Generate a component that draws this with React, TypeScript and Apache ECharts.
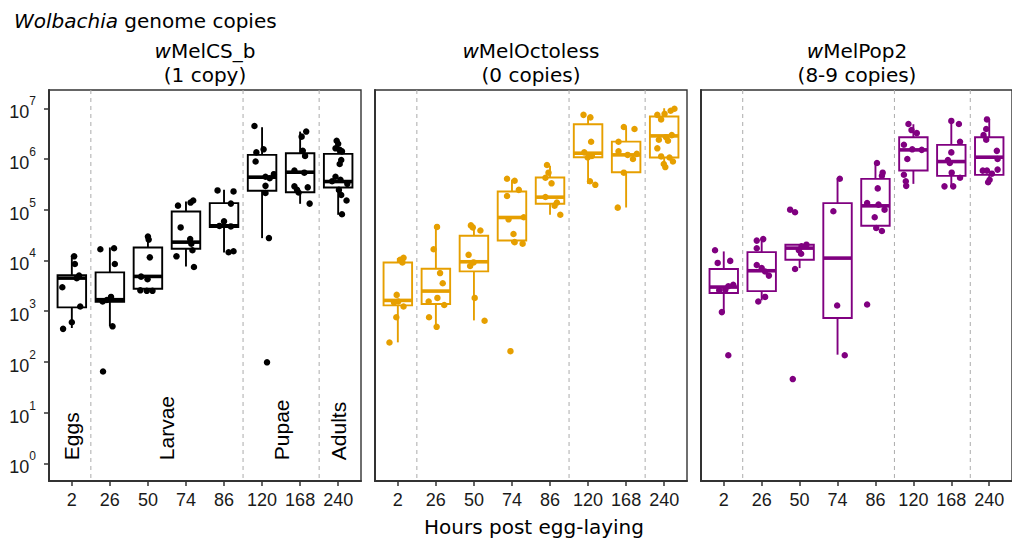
import React, { useEffect, useRef } from "react";
import * as echarts from "echarts";

// Categories (hours post egg-laying)
const hours = ["2", "26", "50", "74", "86", "120", "168", "240"];
const yTickExponents = [0, 1, 2, 3, 4, 5, 6, 7];
const stageBreaks = [1.5, 5.5, 7.5];
const stageNames = ["Eggs", "Larvae", "Pupae", "Adults"];
const stagePositions = [1, 3.5, 6.5, 8];

const strainNames = ["wMelCS_b", "wMelOctoless", "wMelPop2"];
const copyLabels = ["(1 copy)", "(0 copies)", "(8-9 copies)"];
const strainColors = ["#000000", "#E69F00", "#800080"];

// Box statistics, log10 copies: [lower whisker, Q1, median, Q3, upper whisker]
const boxCS = [
  [2.667, 3.074, 3.651, 3.71, 4.098],
  [2.7, 3.185, 3.225, 3.763, 4.255],
  [3.42, 3.441, 3.684, 4.255, 4.472],
  [3.881, 4.229, 4.36, 4.965, 5.162],
  [4.157, 4.656, 4.682, 5.129, 5.391],
  [4.439, 5.372, 5.641, 6.081, 6.626],
  [5.116, 5.345, 5.739, 6.114, 6.54],
  [4.899, 5.437, 5.555, 6.1, 6.376],
];
const boxOcto = [
  [2.384, 3.113, 3.211, 3.96, 4.045],
  [2.686, 3.139, 3.395, 3.835, 4.662],
  [2.817, 3.783, 3.973, 4.485, 4.669],
  [4.34, 4.393, 4.846, 5.358, 5.588],
  [4.899, 5.116, 5.247, 5.634, 5.864],
  [5.509, 6.035, 6.114, 6.685, 6.836],
  [5.043, 5.739, 6.081, 6.343, 6.619],
  [5.818, 6.028, 6.455, 6.836, 7.0],
];
const boxPop = [
  [2.975, 3.356, 3.474, 3.829, 4.177],
  [3.211, 3.395, 3.796, 4.163, 4.426],
  [3.848, 4.012, 4.242, 4.308, 4.308],
  [2.141, 2.863, 4.045, 5.129, 5.621],
  [4.59, 4.682, 5.076, 5.608, 5.917],
  [5.509, 5.772, 6.179, 6.429, 6.685],
  [5.457, 5.667, 5.949, 6.278, 6.75],
  [5.555, 5.687, 6.035, 6.429, 6.783],
];

// Individual samples per category: [jitter offset, log10 copies]
const ptsCS = [
  [[0.06, 4.08], [0.08, 3.93], [0.19, 3.7], [-0.25, 3.47], [0.13, 3.65], [0.22, 3.09], [0, 2.78], [-0.23, 2.65]],
  [[-0.25, 4.22], [0.11, 4.24], [0.13, 3.93], [-0.19, 3.19], [0.03, 3.28], [-0.08, 3.22], [0.07, 2.7], [-0.18, 1.81]],
  [[0, 4.47], [0.02, 4.41], [0.05, 4.06], [-0.18, 3.68], [-0.01, 3.63], [-0.2, 3.41], [-0.03, 3.4], [0.12, 3.4]],
  [[-0.21, 5.08], [0.12, 5.14], [0.19, 5.18], [-0.14, 4.65], [0.11, 4.42], [0.14, 4.33], [0.17, 4.2], [-0.25, 4.08], [0.21, 3.87]],
  [[-0.17, 5.38], [0.25, 5.36], [0.18, 5.12], [0, 4.77], [0.18, 4.67], [-0.12, 4.68], [0.12, 4.16], [0.25, 4.18]],
  [[-0.2, 6.65], [0.04, 6.19], [-0.15, 6.13], [-0.17, 5.95], [0.31, 5.7], [0.09, 5.65], [0.2, 5.62], [0.09, 5.47], [0.09, 5.33], [0.18, 4.44], [0.13, 1.99]],
  [[0.16, 6.54], [0.04, 6.44], [0.07, 6.16], [0.13, 6.06], [-0.15, 5.77], [0.11, 5.73], [-0.15, 5.46], [0.2, 5.44], [-0.08, 5.39], [-0.04, 5.34], [0.25, 5.12]],
  [[-0.04, 6.36], [0, 6.3], [-0.07, 6.21], [0.04, 6.18], [0.1, 6.15], [0.08, 5.98], [0.04, 5.9], [-0.07, 5.65], [0.06, 5.59], [-0.16, 5.56], [0.24, 5.51], [0.02, 5.39], [0.08, 5.29], [0.22, 5.18], [0.1, 4.91]],
];
const ptsOcto = [
  [[0.06, 4.01], [0.15, 4.05], [0.12, 3.96], [-0.03, 3.32], [0.01, 3.19], [0.15, 3.09], [-0.1, 3.17], [-0.04, 2.88], [-0.22, 2.38]],
  [[0.03, 4.66], [-0.06, 4.22], [0.11, 3.75], [0.18, 3.55], [0.04, 3.26], [-0.19, 3.19], [0.22, 3.12], [-0.18, 2.88], [0.02, 2.69]],
  [[-0.08, 4.69], [-0.03, 4.65], [0.17, 4.59], [-0.14, 4.11], [-0.01, 3.96], [-0.1, 3.89], [0.02, 3.26], [0.28, 2.81]],
  [[-0.13, 5.61], [0.07, 5.57], [0.18, 5.39], [-0.13, 5.27], [-0.09, 4.81], [0.31, 4.85], [0.04, 4.52], [0.07, 4.36], [0.28, 4.33], [-0.04, 2.21]],
  [[-0.08, 5.88], [-0.04, 5.73], [-0.12, 5.63], [0.04, 5.52], [-0.12, 5.25], [0.18, 5.14], [0.12, 5.08], [0.27, 4.9]],
  [[-0.12, 6.87], [0.06, 6.82], [0.08, 6.34], [-0.1, 6.13], [0.1, 6.06], [-0.01, 6.03], [0.05, 5.56], [0.19, 5.49]],
  [[-0.06, 6.63], [0.22, 6.59], [-0.2, 6.34], [-0.2, 6.15], [0.04, 6.08], [0.28, 6.1], [0.18, 6.0], [-0.06, 5.73], [-0.22, 5.04]],
  [[0.27, 6.99], [0.17, 6.95], [0.01, 6.89], [-0.18, 6.87], [-0.08, 6.78], [0.2, 6.47], [0.05, 6.43], [-0.14, 6.38], [0.1, 6.36], [-0.18, 6.21], [-0.08, 6.05], [0.14, 6.03], [0.23, 5.95], [-0.01, 5.9], [0.03, 5.84]],
];
const ptsPop = [
  [[-0.23, 4.2], [0.17, 3.99], [-0.16, 3.95], [0.25, 3.52], [0.12, 3.49], [-0.12, 3.41], [0.04, 3.42], [-0.05, 2.98], [0.12, 2.13]],
  [[0.04, 4.42], [-0.13, 4.39], [-0.13, 4.24], [-0.13, 3.91], [0, 3.85], [0.09, 3.78], [0.19, 3.7], [0.09, 3.28], [-0.09, 3.19]],
  [[-0.25, 5.0], [-0.12, 4.95], [0.18, 4.31], [0.05, 4.28], [-0.02, 4.2], [0.04, 4.13], [-0.12, 3.83], [-0.18, 1.66]],
  [[0.06, 5.61], [-0.11, 4.97], [-0.01, 3.11], [0.19, 2.13]],
  [[0.04, 5.92], [0.19, 5.73], [0.17, 5.67], [0.06, 5.42], [-0.22, 5.13], [0.08, 5.1], [0.24, 5.0], [-0.02, 4.85], [0.02, 4.64], [0.17, 4.58], [-0.22, 3.13]],
  [[-0.13, 6.69], [-0.05, 6.57], [0.09, 6.51], [-0.25, 6.28], [-0.03, 6.19], [0.22, 6.18], [-0.16, 6.0], [-0.25, 5.69], [-0.2, 5.56], [-0.19, 5.47]],
  [[0, 6.75], [0.2, 6.69], [0.23, 6.34], [0, 6.13], [-0.09, 5.98], [-0.04, 5.92], [0.01, 5.73], [0.23, 5.63], [-0.18, 5.46], [0.05, 5.46]],
  [[-0.06, 6.78], [-0.08, 6.59], [-0.15, 6.47], [-0.08, 6.38], [0.2, 6.16], [0.22, 6.0], [-0.17, 5.77], [-0.06, 5.77], [0.22, 5.79], [0.07, 5.71], [0.01, 5.59], [-0.03, 5.54]],
];

const allBoxes = [boxCS, boxOcto, boxPop];
const allPoints = [ptsCS, ptsOcto, ptsPop];

const TITLE_FONT = "DejaVu Sans";
const TICK_FONT = "Liberation Sans";
const AXIS_COLOR = "#333333";
const TITLE_SIZE = 20;

const gridLefts = [49, 375, 701];
const GRID_W = 312;
const GRID_TOP = 90;
const GRID_H = 391;

function buildOption() {
  const grid = gridLefts.map((l) => ({
    left: l,
    top: GRID_TOP,
    width: GRID_W,
    height: GRID_H,
    show: true,
    borderColor: AXIS_COLOR,
    borderWidth: 1.4,
    backgroundColor: "#ffffff",
  }));

  const xAxis = gridLefts.map((_, i) => ({
    type: "value",
    gridIndex: i,
    min: 0.4,
    max: 8.6,
    splitLine: { show: false },
    axisLine: { show: true, onZero: false, lineStyle: { color: AXIS_COLOR, width: 2 } },
    axisTick: {
      show: true,
      customValues: hours.map((_, k) => k + 1),
      length: 5,
      lineStyle: { color: AXIS_COLOR, width: 1.5 },
    },
    axisLabel: {
      customValues: hours.map((_, k) => k + 1),
      formatter: (v: number) => hours[Math.round(v) - 1] ?? "",
      fontFamily: TICK_FONT,
      fontSize: 18,
      color: "#1a1a1a",
      margin: 10,
    },
  }));

  const yAxis = gridLefts.map((_, i) => ({
    type: "value",
    gridIndex: i,
    min: -0.35,
    max: 7.36,
    splitLine: { show: false },
    axisLine: { show: true, onZero: false, lineStyle: { color: AXIS_COLOR, width: 2 } },
    axisTick: {
      show: i === 0,
      customValues: yTickExponents,
      length: 5,
      lineStyle: { color: AXIS_COLOR, width: 1.5 },
    },
    axisLabel: {
      show: i === 0,
      customValues: yTickExponents,
      formatter: (v: number) => `{b|10}{s|${Math.round(v)}}`,
      margin: 13,
      rich: {
        b: { fontFamily: TICK_FONT, fontSize: 18, color: "#1a1a1a", lineHeight: 26, verticalAlign: "bottom" },
        s: { fontFamily: TICK_FONT, fontSize: 12, color: "#1a1a1a", verticalAlign: "top" },
      },
    },
  }));

  const series: any[] = [];
  allBoxes.forEach((boxes, i) => {
    const color = strainColors[i];
    series.push({
      type: "custom",
      xAxisIndex: i,
      yAxisIndex: i,
      z: 1,
      silent: true,
      data: stageBreaks.map((b) => [b, 0]),
      renderItem: (params: any, api: any) => {
        const p = api.coord([api.value(0), 0]);
        const cs = params.coordSys;
        return {
          type: "line",
          shape: { x1: p[0], y1: cs.y, x2: p[0], y2: cs.y + cs.height },
          style: { stroke: "#ababab", lineWidth: 1, lineDash: [4, 4] },
        };
      },
    });
    series.push({
      type: "custom",
      xAxisIndex: i,
      yAxisIndex: i,
      z: 2,
      silent: true,
      data: boxes.map((b, k) => [k + 1, ...b]),
      encode: { x: 0, y: [1, 2, 3, 4, 5] },
      renderItem: (params: any, api: any) => {
        const x = api.value(0);
        const pLow = api.coord([x, api.value(1)]);
        const pQ1 = api.coord([x, api.value(2)]);
        const pMed = api.coord([x, api.value(3)]);
        const pQ3 = api.coord([x, api.value(4)]);
        const pHigh = api.coord([x, api.value(5)]);
        const half = api.size([0.75, 0])[0] / 2;
        const st = { stroke: color, lineWidth: 1.9 };
        return {
          type: "group",
          children: [
            { type: "line", shape: { x1: pHigh[0], y1: pHigh[1], x2: pQ3[0], y2: pQ3[1] }, style: st },
            { type: "line", shape: { x1: pQ1[0], y1: pQ1[1], x2: pLow[0], y2: pLow[1] }, style: st },
            {
              type: "rect",
              shape: { x: pQ3[0] - half, y: pQ3[1], width: half * 2, height: pQ1[1] - pQ3[1] },
              style: { fill: "#ffffff", stroke: color, lineWidth: 1.9 },
            },
            {
              type: "line",
              shape: { x1: pMed[0] - half, y1: pMed[1], x2: pMed[0] + half, y2: pMed[1] },
              style: { stroke: color, lineWidth: 3.6 },
            },
          ],
        };
      },
    });
    const pts: number[][] = [];
    allPoints[i].forEach((cat, k) => cat.forEach(([j, v]) => pts.push([k + 1 + j, v])));
    series.push({
      type: "scatter",
      xAxisIndex: i,
      yAxisIndex: i,
      z: 3,
      silent: true,
      symbol: "circle",
      symbolSize: 6.5,
      itemStyle: { color, opacity: 1 },
      data: pts,
    });
  });

  // Developmental stage annotations (panel 1), placed in data coordinates
  series.push({
    type: "custom",
    xAxisIndex: 0,
    yAxisIndex: 0,
    z: 4,
    silent: true,
    data: stageNames.map((n, k) => [stagePositions[k], 0.06, k]),
    renderItem: (params: any, api: any) => {
      const p = api.coord([api.value(0), api.value(1)]);
      return {
        type: "text",
        x: p[0],
        y: p[1],
        rotation: Math.PI / 2,
        style: {
          text: stageNames[api.value(2)],
          fill: "#000000",
          fontFamily: TICK_FONT,
          fontSize: 21,
          align: "left",
          verticalAlign: "middle",
        },
      };
    },
  });

  const graphic: any[] = [
    {
      type: "text",
      x: 14,
      y: 21,
      style: {
        text: "{i|Wolbachia} genome copies",
        fontFamily: TITLE_FONT,
        fontSize: TITLE_SIZE,
        fill: "#000000",
        verticalAlign: "middle",
        rich: { i: { fontFamily: TITLE_FONT, fontSize: TITLE_SIZE, fontStyle: "italic", fill: "#000000" } },
      },
    },
    {
      type: "text",
      x: 534,
      y: 527,
      style: {
        text: "Hours post egg-laying",
        fontFamily: TITLE_FONT,
        fontSize: TITLE_SIZE,
        fill: "#000000",
        align: "center",
        verticalAlign: "middle",
      },
    },
  ];
  strainNames.forEach((n, i) => {
    graphic.push({
      type: "text",
      x: gridLefts[i] + GRID_W / 2,
      y: 39,
      style: {
        text: `{i|${n.slice(0, 1)}}{r|${n.slice(1)}}\n{r|${copyLabels[i]}}`,
        fontFamily: TITLE_FONT,
        fontSize: TITLE_SIZE,
        lineHeight: 24,
        fill: "#000000",
        align: "center",
        verticalAlign: "top",
        rich: {
          i: { fontFamily: TITLE_FONT, fontSize: TITLE_SIZE, fontStyle: "italic", fill: "#000000", lineHeight: 24 },
          r: { fontFamily: TITLE_FONT, fontSize: TITLE_SIZE, fill: "#000000", lineHeight: 24 },
        },
      },
    });
  });

  return {
    animation: false,
    backgroundColor: "#ffffff",
    grid,
    xAxis,
    yAxis,
    series,
    graphic,
  };
}

export default function App() {
  const ref = useRef<HTMLDivElement>(null);
  useEffect(() => {
    if (!ref.current) return;
    const chart = echarts.init(ref.current, null, { renderer: "svg" });
    chart.setOption(buildOption() as any);
    return () => chart.dispose();
  }, []);
  return (
    <div
      ref={ref}
      style={{ position: "absolute", left: 0, top: 0, width: 1012, height: 540, background: "#ffffff" }}
    />
  );
}
